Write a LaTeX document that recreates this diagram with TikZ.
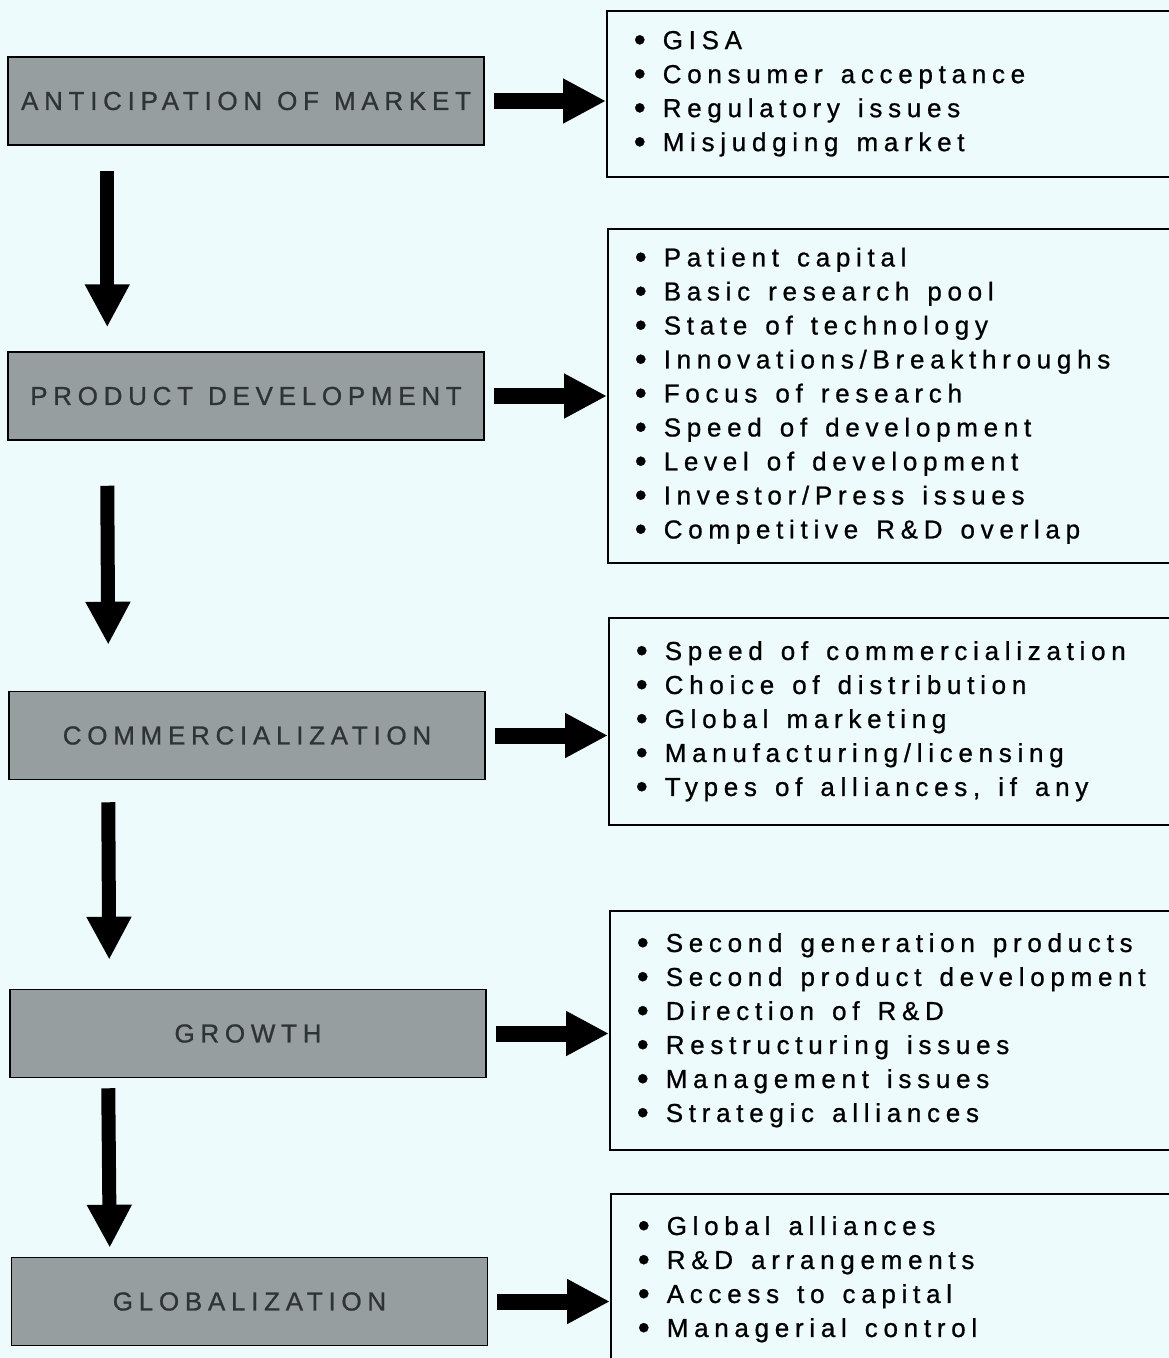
\documentclass[tikz,border=0pt]{standalone}
\usepackage{fontspec}
\setmainfont{Liberation Sans}[LetterSpace=22, FakeBold=0.8]
\usetikzlibrary{arrows.meta}
\definecolor{paper}{HTML}{EEFBFD}
\definecolor{screen}{HTML}{979E9F}
\definecolor{stageink}{HTML}{2E3334}
\newcommand{\stagefont}{\fontsize{26}{30}\selectfont\spaceskip 15pt\relax}
\newcommand{\bul}{\leavevmode\spaceskip 18pt\relax
  \llap{\raisebox{-2pt}{\fontsize{34}{34}\selectfont\textbullet}\hspace{17pt}}}
\tikzset{
  stage/.style={draw=black, line width=1.5pt, fill=screen, text=stageink,
    minimum width=476pt, minimum height=88pt, inner sep=0pt, font=\stagefont},
  infobox/.style={draw=black, line width=1.5pt, anchor=north west, align=left,
    text width=520pt, inner xsep=56pt, inner ysep=0pt,
    font=\fontsize{26}{34}\selectfont},
  downarrow/.style={line width=14pt, -{Triangle[width=42pt, length=43pt]}},
  rightarrow/.style={line width=16pt, -{Triangle[width=42pt, length=43pt]}}
}

\begin{document}
\begin{tikzpicture}[x=1pt, y=-1pt]
    \useasboundingbox (0,0) rectangle (1169,1358);
    \fill[paper] (0,0) rectangle (1169,1358);

    % Stages
    \node[stage] (ant) at (246,101) {ANTICIPATION OF MARKET};
    \node[stage] (dev) at (246,396) {PRODUCT DEVELOPMENT};
    \node[stage] (com) at (247,735.5) {COMMERCIALIZATION};
    \node[stage] (gro) at (248,1033.5) {GROWTH};
    \node[stage] (glo) at (249.5,1301.5) {GLOBALIZATION};

    % Issue lists
    \node[infobox, minimum height=166pt] (antinfo) at (606,10) {%
      \bul GISA\\
      \bul Consumer acceptance\\
      \bul Regulatory issues\\
      \bul Misjudging market};
    \node[infobox, minimum height=334pt] (devinfo) at (607,228) {%
      \bul Patient capital\\
      \bul Basic research pool\\
      \bul State of technology\\
      \bul Innovations/Breakthroughs\\
      \bul Focus of research\\
      \bul Speed of development\\
      \bul Level of development\\
      \bul Investor/Press issues\\
      \bul Competitive R\&D overlap};
    \node[infobox, minimum height=207pt] (cominfo) at (608,617) {%
      \bul Speed of commercialization\\
      \bul Choice of distribution\\
      \bul Global marketing\\
      \bul Manufacturing/licensing\\
      \bul Types of alliances, if any};
    \node[infobox, minimum height=239pt] (groinfo) at (609,910) {%
      \bul Second generation products\\
      \bul Second product development\\
      \bul Direction of R\&D\\
      \bul Restructuring issues\\
      \bul Management issues\\
      \bul Strategic alliances};
    \node[infobox, minimum height=171pt] (gloinfo) at (610,1193) {%
      \bul Global alliances\\
      \bul R\&D arrangements\\
      \bul Access to capital\\
      \bul Managerial control};

    % Stage to stage
    \draw[downarrow] ([xshift=100pt, yshift=-25pt]ant.south west) -- ([xshift=100pt, yshift=24pt]dev.north west);
    \draw[downarrow] ([xshift=100pt, yshift=-45pt]dev.south west) -- ([xshift=100pt, yshift=46pt]com.north west);
    \draw[downarrow] ([xshift=100pt, yshift=-22pt]com.south west) -- ([xshift=100pt, yshift=29pt]gro.north west);
    \draw[downarrow] ([xshift=99pt, yshift=-10pt]gro.south west) -- ([xshift=99pt, yshift=9pt]glo.north west);

    % Stage to issues
    \draw[rightarrow, shorten <=9pt] (ant.east) -- (ant.east -| antinfo.west);
    \draw[rightarrow, shorten <=9pt] (dev.east) -- (dev.east -| devinfo.west);
    \draw[rightarrow, shorten <=9pt] (com.east) -- (com.east -| cominfo.west);
    \draw[rightarrow, shorten <=9pt] (gro.east) -- (gro.east -| groinfo.west);
    \draw[rightarrow, shorten <=9pt] (glo.east) -- (glo.east -| gloinfo.west);
\end{tikzpicture}
\end{document}
